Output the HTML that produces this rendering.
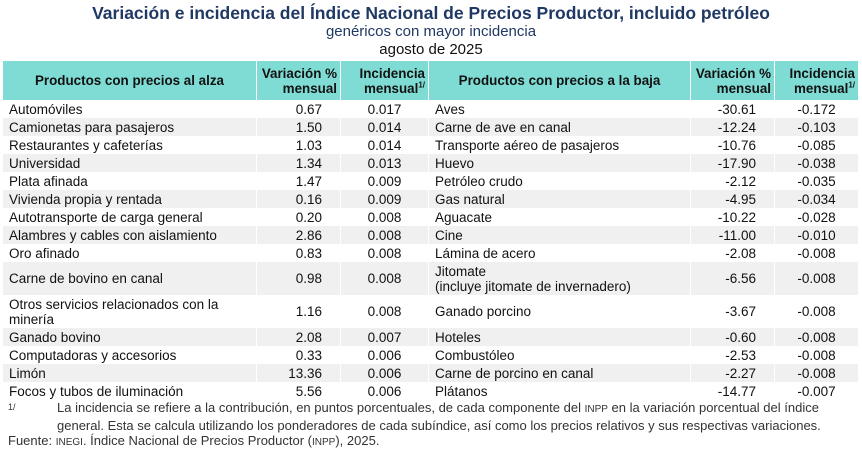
<!DOCTYPE html>
<html><head><meta charset="utf-8"><style>
body{margin:0;width:862px;height:452px;background:#fff;font-family:"Liberation Sans",sans-serif;color:#111;position:relative;overflow:hidden}
.t1{position:absolute;top:3px;left:0;width:862px;text-align:center;font-size:17.5px;font-weight:bold;color:#1f3864}
.t2{position:absolute;top:23px;left:0;width:862px;text-align:center;font-size:15px;color:#1f3864}
.t3{position:absolute;top:41px;left:0;width:862px;text-align:center;font-size:15px;color:#111}
table{position:absolute;top:61px;left:2px;border-collapse:collapse;font-size:13.5px;table-layout:fixed}
td,th{border-left:1px solid #fff;border-right:1px solid #fff;padding:0 6px;line-height:15px;overflow:hidden}
th{background:#7fdcd5;font-weight:bold;height:39px;padding:0 3px;font-size:13.4px;white-space:nowrap}
td{height:18px;padding-top:0;padding-bottom:0;white-space:nowrap}
td.w{white-space:normal}
td.n{text-align:right;padding-right:18px}
td.i{text-align:center}
tr.g td{background:#f0f0f0}
tr.d td{height:33px}
.fn{position:absolute;left:8px;font-size:13px;color:#333;line-height:16px}
sup{font-size:8px;line-height:0}
</style></head><body>
<div class="t1">Variación e incidencia del Índice Nacional de Precios Productor, incluido petróleo</div>
<div class="t2">genéricos con mayor incidencia</div>
<div class="t3">agosto de 2025</div>
<table>
<colgroup><col style="width:254px"><col style="width:84px"><col style="width:88px"><col style="width:262px"><col style="width:84px"><col style="width:84px"></colgroup>
<tr><th>Productos con precios al alza</th><th style="text-align:right">Variación %<br>mensual</th><th style="text-align:right">Incidencia<br>mensual<sup>1/</sup></th><th>Productos con precios a la baja</th><th style="text-align:right">Variación %<br>mensual</th><th style="text-align:right">Incidencia<br>mensual<sup>1/</sup></th></tr>
<tr><td>Automóviles</td><td class="n">0.67</td><td class="i">0.017</td><td>Aves</td><td class="n">-30.61</td><td class="i">-0.172</td></tr>
<tr class="g"><td>Camionetas para pasajeros</td><td class="n">1.50</td><td class="i">0.014</td><td>Carne de ave en canal</td><td class="n">-12.24</td><td class="i">-0.103</td></tr>
<tr><td>Restaurantes y cafeterías</td><td class="n">1.03</td><td class="i">0.014</td><td>Transporte aéreo de pasajeros</td><td class="n">-10.76</td><td class="i">-0.085</td></tr>
<tr class="g"><td>Universidad</td><td class="n">1.34</td><td class="i">0.013</td><td>Huevo</td><td class="n">-17.90</td><td class="i">-0.038</td></tr>
<tr><td>Plata afinada</td><td class="n">1.47</td><td class="i">0.009</td><td>Petróleo crudo</td><td class="n">-2.12</td><td class="i">-0.035</td></tr>
<tr class="g"><td>Vivienda propia y rentada</td><td class="n">0.16</td><td class="i">0.009</td><td>Gas natural</td><td class="n">-4.95</td><td class="i">-0.034</td></tr>
<tr><td>Autotransporte de carga general</td><td class="n">0.20</td><td class="i">0.008</td><td>Aguacate</td><td class="n">-10.22</td><td class="i">-0.028</td></tr>
<tr class="g"><td>Alambres y cables con aislamiento</td><td class="n">2.86</td><td class="i">0.008</td><td>Cine</td><td class="n">-11.00</td><td class="i">-0.010</td></tr>
<tr><td>Oro afinado</td><td class="n">0.83</td><td class="i">0.008</td><td>Lámina de acero</td><td class="n">-2.08</td><td class="i">-0.008</td></tr>
<tr class="g d"><td>Carne de bovino en canal</td><td class="n">0.98</td><td class="i">0.008</td><td>Jitomate<br>(incluye jitomate de invernadero)</td><td class="n">-6.56</td><td class="i">-0.008</td></tr>
<tr class="d"><td class="w">Otros servicios relacionados con la minería</td><td class="n">1.16</td><td class="i">0.008</td><td>Ganado porcino</td><td class="n">-3.67</td><td class="i">-0.008</td></tr>
<tr class="g"><td>Ganado bovino</td><td class="n">2.08</td><td class="i">0.007</td><td>Hoteles</td><td class="n">-0.60</td><td class="i">-0.008</td></tr>
<tr><td>Computadoras y accesorios</td><td class="n">0.33</td><td class="i">0.006</td><td>Combustóleo</td><td class="n">-2.53</td><td class="i">-0.008</td></tr>
<tr class="g"><td>Limón</td><td class="n">13.36</td><td class="i">0.006</td><td>Carne de porcino en canal</td><td class="n">-2.27</td><td class="i">-0.008</td></tr>
<tr><td>Focos y tubos de iluminación</td><td class="n">5.56</td><td class="i">0.006</td><td>Plátanos</td><td class="n">-14.77</td><td class="i">-0.007</td></tr>
</table>
<div class="fn" style="top:399px;font-size:9px">1/</div>
<div class="fn" style="top:400px;left:57px;width:800px">La incidencia se refiere a la contribución, en puntos porcentuales, de cada componente del <span style="font-size:10px">INPP</span> en la variación porcentual del índice general. Esta se calcula utilizando los ponderadores de cada subíndice, así como los precios relativos y sus respectivas variaciones.</div>
<div class="fn" style="top:433px">Fuente: <span style="font-size:10px">INEGI</span>. Índice Nacional de Precios Productor (<span style="font-size:10px">INPP</span>), 2025.</div>
</body></html>
